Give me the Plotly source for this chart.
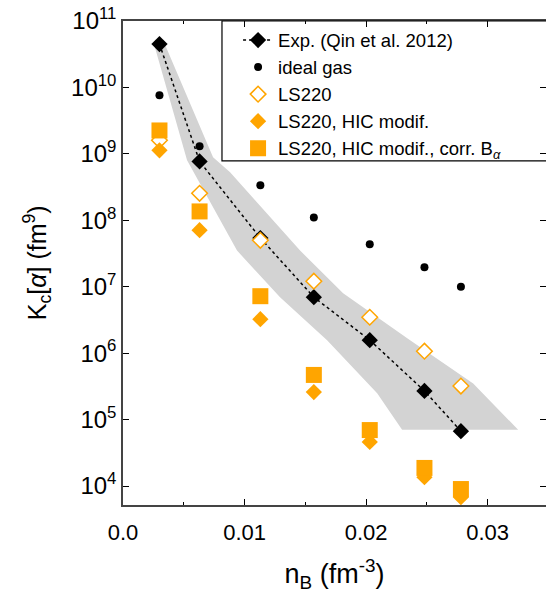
import plotly.graph_objects as go

# ---------------- data ----------------
nB = [0.0030, 0.0063, 0.0113, 0.0157, 0.0203, 0.0248, 0.0278]
K_exp = [4.5e10, 7.7e8, 5.4e7, 6.95e6, 1.57e6, 2.7e5, 6.7e4]
K_ideal = [7.6e9, 1.3e9, 3.36e8, 1.1e8, 4.35e7, 1.96e7, 1.0e7]
K_ls220 = [1.6e9, 2.55e8, 5.0e7, 1.21e7, 3.47e6, 1.07e6, 3.2e5]
K_hic = [1.13e9, 7.1e7, 3.24e6, 2.6e5, 4.6e4, 1.36e4, 6.8e3]
K_hic_corr = [2.25e9, 1.36e8, 7.2e6, 4.7e5, 6.95e4, 1.87e4, 9.0e3]

# experimental uncertainty band (polygon outline)
band_nB = [0.00247, 0.00346, 0.00741, 0.00881, 0.01457, 0.01811, 0.02362, 0.02881, 0.03251,
           0.02296, 0.02091, 0.01679, 0.01292, 0.01004, 0.00938, 0.00527, 0.00263]
band_K = [4.4e10, 4.4e10, 8.9e8, 5.3e8, 3.5e7, 8.0e6, 1.57e6, 3.5e5, 7.0e4,
          7.0e4, 2.5e5, 1.57e6, 6.95e6, 2.6e7, 3.5e7, 8.0e8, 4.0e10]

x_tickvals = [0.0, 0.01, 0.02, 0.03]
x_ticktext = ["0.0", "0.01", "0.02", "0.03"]
y_exponents = [4, 5, 6, 7, 8, 9, 10, 11]

ORANGE = "#FFA500"
FONT = "Liberation Sans, Arial, sans-serif"

fig = go.Figure()

fig.add_trace(go.Scatter(
    x=band_nB + [band_nB[0]], y=band_K + [band_K[0]], mode="lines",
    fill="toself", fillcolor="#D3D3D3", line=dict(width=0, color="#D3D3D3"),
    hoverinfo="skip", showlegend=False))

fig.add_trace(go.Scatter(
    x=nB, y=K_exp, mode="lines+markers", name="Exp. (Qin et al. 2012)",
    line=dict(color="black", width=1.5, dash="dot"),
    marker=dict(symbol="diamond", size=12.5, color="black")))

fig.add_trace(go.Scatter(
    x=nB, y=K_ideal, mode="markers", name="ideal gas",
    marker=dict(symbol="circle", size=8, color="black")))

fig.add_trace(go.Scatter(
    x=nB, y=K_ls220, mode="markers", name="LS220",
    marker=dict(symbol="diamond", size=12, color="white",
                line=dict(color=ORANGE, width=1.5))))

fig.add_trace(go.Scatter(
    x=nB, y=K_hic, mode="markers", name="LS220, HIC modif.",
    marker=dict(symbol="diamond", size=12.5, color=ORANGE)))

fig.add_trace(go.Scatter(
    x=nB, y=K_hic_corr, mode="markers",
    name="LS220, HIC modif., corr. B<sub><i>α</i></sub>",
    marker=dict(symbol="square", size=16, color=ORANGE)))

# helper trace for right-side ticks (no line)
fig.add_trace(go.Scatter(x=[None], y=[None], yaxis="y2", showlegend=False,
                         hoverinfo="skip"))

yr = [3.714, 11]
fig.update_layout(
    width=546, height=593,
    margin=dict(l=123, r=0, t=21, b=88),
    paper_bgcolor="white", plot_bgcolor="white",
    font=dict(family=FONT, color="black", size=20),
    showlegend=True,
    legend=dict(x=0.272, xanchor="left", y=0.999, yanchor="top",
                bgcolor="rgba(0,0,0,0)", borderwidth=0,
                font=dict(size=18.5, family=FONT), tracegroupgap=0,
                itemsizing="trace"),
    xaxis=dict(range=[0, 0.0348], showgrid=False, zeroline=False,
               showline=True, linecolor="#444", linewidth=1.5, mirror="ticks",
               ticks="inside", ticklen=6, tickwidth=1.2, tickcolor="black",
               tickvals=x_tickvals, ticktext=x_ticktext,
               tickfont=dict(size=22), ticklabelstandoff=7,
               minor=dict(dtick=0.005, tick0=0, ticks="inside", ticklen=3,
                          tickwidth=1.2, tickcolor="black", showgrid=False),
               title=dict(text="n<sub>B</sub> (fm<sup>-3</sup>)",
                          font=dict(size=27), standoff=22)),
    yaxis=dict(type="log", range=yr, showgrid=False, zeroline=False,
               showline=True, linecolor="#444", linewidth=1.5,
               ticks="inside", ticklen=6, tickwidth=1.2, tickcolor="black",
               tickvals=[10 ** e for e in y_exponents],
               ticktext=["10<sup>%d</sup>" % e for e in y_exponents],
               tickfont=dict(size=24)),
    yaxis2=dict(type="log", range=yr, overlaying="y", side="right",
                showgrid=False, zeroline=False, showline=False,
                ticks="inside", ticklen=6, tickwidth=1.2, tickcolor="black",
                tickvals=[10 ** e for e in y_exponents],
                showticklabels=False),
    shapes=[dict(type="rect", xref="paper", yref="paper",
                 x0=0.234, x1=1.05, y0=0.711, y1=1.0,
                 line=dict(color="black", width=1.2), fillcolor="rgba(0,0,0,0)",
                 layer="above")],
    annotations=[dict(text="K<sub>c</sub>[<i>α</i>] (fm<sup>9</sup>)",
                      xref="paper", yref="paper", x=-0.203, y=0.5,
                      showarrow=False, textangle=-90,
                      font=dict(size=25, family=FONT),
                      xanchor="center", yanchor="middle")],
)

fig.write_html("out.html")
